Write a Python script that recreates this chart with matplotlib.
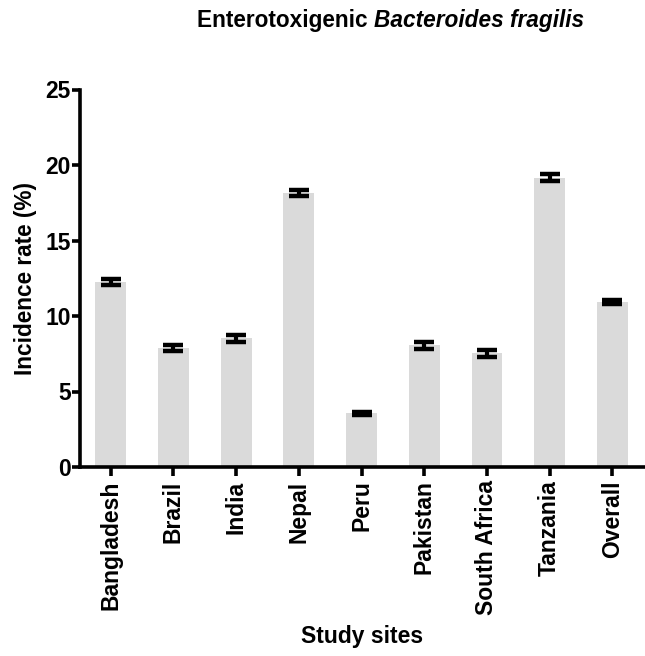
import matplotlib.pyplot as plt
import numpy as np

# Datos
sitios = ['Bangladesh', 'Brazil', 'India', 'Nepal', 'Peru', 'Pakistan',
          'South Africa', 'Tanzania', 'Overall']
incidencia = [12.27, 7.89, 8.52, 18.15, 3.55, 8.06, 7.53, 19.16, 10.94]
error = [0.2, 0.2, 0.22, 0.22, 0.1, 0.22, 0.22, 0.23, 0.12]

plt.rcParams['font.family'] = ['Liberation Sans', 'DejaVu Sans']

fig = plt.figure(figsize=(6.45, 6.56), dpi=100)
ax = fig.add_axes([80 / 645, 1 - 467 / 656, (645 - 80) / 645, (467 - 89.5) / 656])

x = np.arange(len(sitios))
ax.bar(x, incidencia, width=0.49, color='#dadada', zorder=1)
ax.errorbar(x, incidencia, yerr=error, fmt='none', ecolor='black',
            elinewidth=3, capsize=7.2, capthick=3.2, zorder=2)

ax.set_xlim(-0.49, 8.52)
ax.set_ylim(0, 25)
ax.set_yticks([0, 5, 10, 15, 20, 25])
ax.set_xticks(x)
ax.set_xticklabels(sitios, rotation=90, fontsize=16.5, fontweight='bold')
for lbl in ax.get_yticklabels():
    lbl.set_fontsize(16.5)
    lbl.set_fontweight('bold')

for s in ['top', 'right']:
    ax.spines[s].set_visible(False)
for s in ['left', 'bottom']:
    ax.spines[s].set_linewidth(2.6)

ax.tick_params(axis='y', length=5.8, width=2.6, pad=1)
ax.tick_params(axis='x', length=6.7, width=2.6, pad=3)

ax.set_ylabel('Incidence rate (%)', fontsize=16.3, fontweight='bold', labelpad=6)
ax.set_xlabel('Study sites', fontsize=16.5, fontweight='bold', labelpad=7)

# Titulo con parte en cursiva
t1 = fig.text(197 / 645, 1 - 20 / 656, 'Enterotoxigenic ', ha='left', va='center',
              fontsize=16.3, fontweight='bold')
plt.annotate('Bacteroides fragilis', xy=(1, 0), xycoords=t1, ha='left', va='bottom',
             fontsize=16.3, fontweight='bold', fontstyle='italic')

fig.savefig('out.png', dpi=100)
